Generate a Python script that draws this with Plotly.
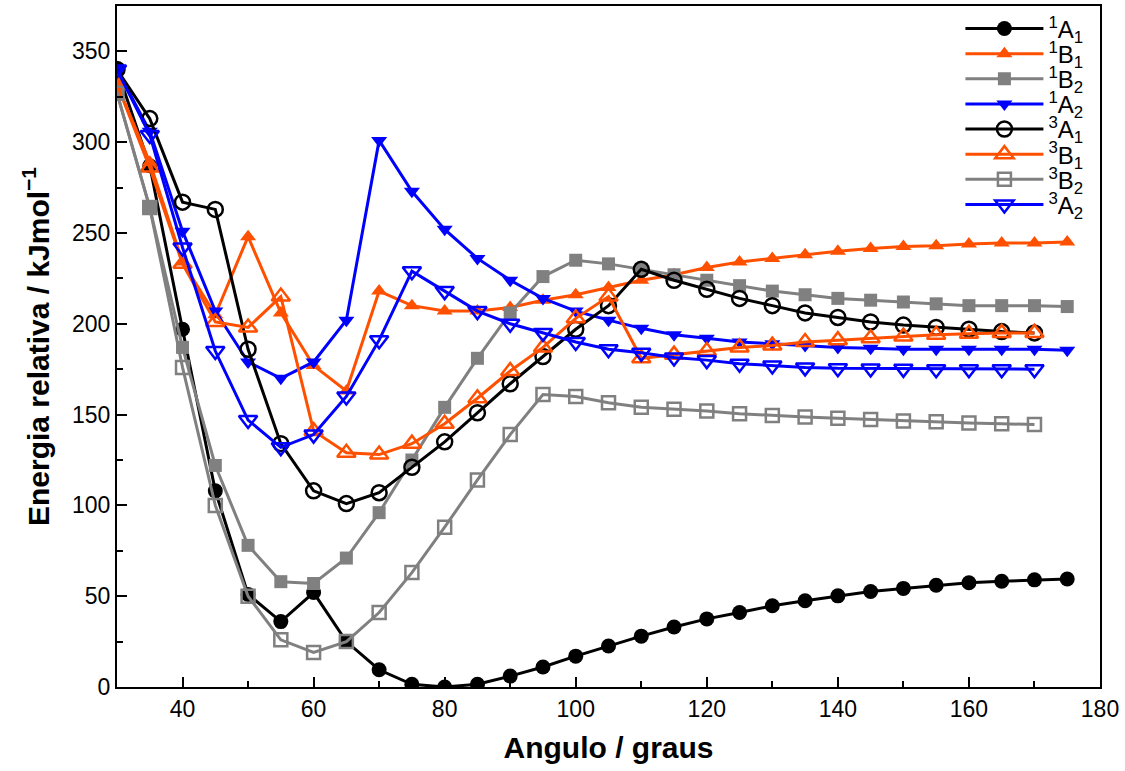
import plotly.graph_objects as go

# Bending angle (degrees) for singlet and triplet states
angle_singlet = [30, 35, 40, 45, 50, 55, 60, 65, 70, 75, 80, 85, 90, 95, 100,
                 105, 110, 115, 120, 125, 130, 135, 140, 145, 150, 155, 160, 165, 170, 175]
angle_triplet = angle_singlet[:-1]

# Relative energies (kJ/mol)
e_1A1 = [340, 287, 197, 108, 51, 36, 52, 25, 9.5, 1.5, 0, 1.5, 6, 11, 17,
         22.6, 28, 33, 37.5, 41, 44.7, 47.5, 50.2, 52.6, 54.3, 56, 57.4, 58.2, 59, 59.5]
e_1B1 = [332, 289, 234, 205, 248, 206, 177, 163, 218, 210, 207, 207, 209, 213, 216,
         220, 224, 227, 231, 234, 236, 238, 240, 241.5, 242.5, 243, 244, 244.5, 244.5, 245]
e_1B2 = [327, 264, 187, 122, 78, 58, 57, 71, 96, 125, 154, 181, 206, 226, 235,
         233, 230, 227, 224, 221, 218, 216, 214, 213, 212, 211, 210, 210, 210, 209.5]
e_1A2 = [340, 306, 251, 207, 179, 170, 179, 202, 301, 273, 252, 236, 224, 214, 207,
         202, 197.5, 194, 192, 190, 189, 188, 187, 186.5, 186, 186, 186, 186, 186, 185.5]
e_3A1 = [340, 313, 267, 263, 186, 134, 108, 101, 107, 121, 135, 151, 167, 182, 197,
         210, 230, 224, 219, 214, 210, 206, 203.5, 201, 199.3, 198, 197, 195.7, 195]
e_3B1 = [332, 286, 233, 201, 198, 215, 141, 129, 128, 134, 145, 159, 174, 187, 203,
         215, 181, 183, 185, 187, 188, 190, 191, 192, 193, 194, 194.5, 195, 195]
e_3B2 = [327, 264, 176, 100, 50, 26, 19, 25, 41, 63, 88, 114, 139, 161, 160,
         156.5, 154, 153, 152, 150.5, 149.5, 148.7, 148, 147.3, 146.5, 146, 145.4, 145, 144.5]
e_3A2 = [340, 304, 242, 185, 147, 132, 139, 160, 191, 229, 218, 207, 200, 195, 190,
         186, 184, 181.5, 180, 178, 177, 176, 175.5, 175.4, 175.2, 175, 175, 175, 175]

BLACK = "#000000"
ORANGE = "#ff5000"
GREY = "#808080"
BLUE = "#0000ff"

series = [
    ("<sup>1</sup>A<sub>1</sub>", angle_singlet, e_1A1, BLACK, "circle"),
    ("<sup>1</sup>B<sub>1</sub>", angle_singlet, e_1B1, ORANGE, "triangle-up"),
    ("<sup>1</sup>B<sub>2</sub>", angle_singlet, e_1B2, GREY, "square"),
    ("<sup>1</sup>A<sub>2</sub>", angle_singlet, e_1A2, BLUE, "triangle-down"),
    ("<sup>3</sup>A<sub>1</sub>", angle_triplet, e_3A1, BLACK, "circle-open"),
    ("<sup>3</sup>B<sub>1</sub>", angle_triplet, e_3B1, ORANGE, "triangle-up-open"),
    ("<sup>3</sup>B<sub>2</sub>", angle_triplet, e_3B2, GREY, "square-open"),
    ("<sup>3</sup>A<sub>2</sub>", angle_triplet, e_3A2, BLUE, "triangle-down-open"),
]

font_family = "Liberation Sans, Arial, Helvetica, sans-serif"

# Figure geometry (px)
W, H = 1125, 771
M_L, M_R, M_T, M_B = 117, 25, 4, 84
plot_h = H - M_T - M_B

# Each legend entry gets its own legend box so the rows can sit closer together
legend_row0 = 27      # px from top of the figure to the first row
legend_step = 25.2    # px between rows
legend_left = 0.858   # paper x of the legend boxes

fig = go.Figure()
layout_legends = {}
for i, (name, xs, ys, color, symbol) in enumerate(series):
    is_open = symbol.endswith("open")
    if symbol.startswith("circle"):
        size = 15
    elif symbol.startswith("square"):
        size = 13
    else:
        size = 14 if not is_open else 16
    legend_id = "legend" if i == 0 else f"legend{i + 1}"
    fig.add_trace(go.Scatter(
        x=xs, y=ys, name=name, mode="lines+markers",
        line=dict(color=color, width=3),
        marker=dict(symbol=symbol, size=size, color=color,
                    line=dict(color=color, width=2.5 if is_open else 0)),
        legend=legend_id,
    ))
    row_px = legend_row0 + i * legend_step
    layout_legends[legend_id] = dict(
        x=legend_left, y=(H - M_B - row_px) / plot_h,
        xanchor="left", yanchor="middle",
        bgcolor="rgba(0,0,0,0)", borderwidth=0,
        font=dict(size=24, family=font_family),
        itemwidth=78,
    )

fig.update_layout(
    width=W, height=H,
    margin=dict(l=M_L, r=M_R, t=M_T, b=M_B),
    paper_bgcolor="white", plot_bgcolor="white",
    font=dict(family=font_family, color="black", size=23),
    showlegend=True,
    **layout_legends,
)

fig.update_xaxes(
    range=[30, 180], tick0=40, dtick=20,
    ticks="inside", ticklen=10, tickwidth=1.5, tickcolor="black",
    minor=dict(dtick=10, ticks="inside", ticklen=6, tickwidth=1.5, tickcolor="black"),
    showline=True, linecolor="black", linewidth=2, mirror=True,
    showgrid=False, zeroline=False,
    tickfont=dict(size=23),
    title=dict(text="Angulo / graus", font=dict(size=30, weight="bold"), standoff=16),
)
fig.update_yaxes(
    range=[0, 375], tick0=0, dtick=50,
    ticks="inside", ticklen=10, tickwidth=1.5, tickcolor="black",
    minor=dict(dtick=25, ticks="inside", ticklen=6, tickwidth=1.5, tickcolor="black"),
    showline=True, linecolor="black", linewidth=2, mirror=True,
    showgrid=False, zeroline=False,
    tickfont=dict(size=23),
    title=dict(text="Energia relativa / kJmol<sup>−1</sup>", font=dict(size=30, weight="bold"), standoff=14),
)

fig.write_html("out.html")
